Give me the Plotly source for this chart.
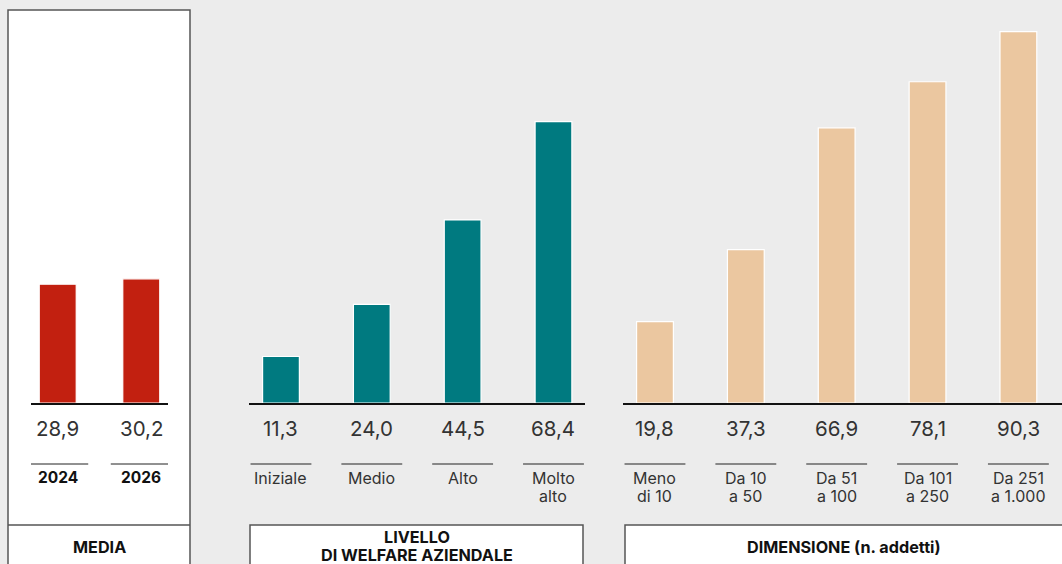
import plotly.graph_objects as go

W, H = 1062, 564

# --- data -------------------------------------------------------------
media_years = ["2024", "2026"]
media_values = [28.9, 30.2]

welfare_levels = ["Iniziale", "Medio", "Alto", "Molto<br>alto"]
welfare_values = [11.3, 24.0, 44.5, 68.4]

size_classes = ["Meno<br>di 10", "Da 10<br>a 50", "Da 51<br>a 100",
                "Da 101<br>a 250", "Da 251<br>a 1.000"]
size_values = [19.8, 37.3, 66.9, 78.1, 90.3]

panel_titles = ["MEDIA", "LIVELLO<br>DI WELFARE AZIENDALE", "DIMENSIONE (n. addetti)"]

# --- styling ----------------------------------------------------------
BG = "#ececec"
FONT = "Inter"
TXT = "#333333"
colors = ["#c22010", "#007a80", "#ebc7a0"]


def px_x(p):
    return p / W


def px_y(p):
    return 1 - p / H


panels = [
    dict(cats=media_years, vals=media_values, dom=[31, 168], rng=[-0.32, 1.32],
         width=0.443, half=0.365, bold=True),
    dict(cats=welfare_levels, vals=welfare_values, dom=[249, 585], rng=[-0.352, 3.347],
         width=0.405, half=0.335, bold=False),
    dict(cats=size_classes, vals=size_values, dom=[623, 1062], rng=[-0.352, 4.48],
         width=0.405, half=0.335, bold=False),
]

fig = go.Figure()
shapes = []
annotations = []

# white frame of the first panel, drawn behind everything
shapes.append(dict(type="rect", xref="paper", yref="paper",
                   x0=px_x(8), x1=px_x(190), y0=-0.05, y1=px_y(10),
                   fillcolor="white", line=dict(color="#555555", width=1.5),
                   layer="below"))

y_dom = [px_y(403), px_y(10)]
y_max = (403 - 10) / 4.113

for i, p in enumerate(panels):
    n = "" if i == 0 else str(i + 1)
    xa, ya = "x" + n, "y" + n
    fig.add_trace(go.Bar(
        x=p["cats"], y=p["vals"], width=[p["width"]] * len(p["vals"]),
        marker=dict(color=colors[i], line=dict(color="white", width=1.2)),
        xaxis=xa, yaxis=ya, showlegend=False, hoverinfo="skip",
    ))
    fig.layout["xaxis" + n] = dict(
        domain=[px_x(p["dom"][0]), px_x(p["dom"][1])], range=p["rng"],
        anchor=ya, showline=True, linecolor="#111111", linewidth=2.2,
        showticklabels=False, ticks="", showgrid=False, zeroline=False,
        fixedrange=True,
    )
    fig.layout["yaxis" + n] = dict(
        domain=y_dom, range=[0, y_max], anchor=xa, visible=False,
        showgrid=False, zeroline=False, fixedrange=True,
    )

    for k, (cat, val) in enumerate(zip(p["cats"], p["vals"])):
        # value under the baseline
        annotations.append(dict(
            xref=xa, yref="paper", x=k, y=px_y(428),
            text=f"{val:.1f}".replace(".", ","), showarrow=False,
            yanchor="middle", xanchor="center",
            font=dict(family=FONT, size=20.5, color=TXT),
        ))
        # short rule above the category name
        shapes.append(dict(type="line", xref=xa, yref="paper",
                           x0=k - p["half"], x1=k + p["half"],
                           y0=px_y(464), y1=px_y(464),
                           line=dict(color="#222222", width=1)))
        # category name, one annotation per line
        for j, line in enumerate(cat.split("<br>")):
            annotations.append(dict(
                xref=xa, yref="paper", x=k, y=px_y(478 + 18 * j),
                text=f"<b>{line}</b>" if p["bold"] else line,
                showarrow=False, yanchor="middle", xanchor="center",
                font=dict(family=FONT, size=15.5 if p["bold"] else 16,
                          color="#111111" if p["bold"] else TXT),
            ))

# title boxes along the bottom
shapes.append(dict(type="line", xref="paper", yref="paper",
                   x0=px_x(8), x1=px_x(190), y0=px_y(525), y1=px_y(525),
                   line=dict(color="#555555", width=1.5)))
shapes.append(dict(type="rect", xref="paper", yref="paper",
                   x0=px_x(250), x1=px_x(583), y0=-0.05, y1=px_y(525),
                   fillcolor="white", line=dict(color="#555555", width=1.5)))
shapes.append(dict(type="rect", xref="paper", yref="paper",
                   x0=px_x(625), x1=1.05, y0=-0.05, y1=px_y(525),
                   fillcolor="white", line=dict(color="#555555", width=1.5)))

title_pos = [(99, [547]), (416.5, [537, 555]), (844, [547])]
for title, (cx, ys) in zip(panel_titles, title_pos):
    for line, yy in zip(title.split("<br>"), ys):
        annotations.append(dict(
            xref="paper", yref="paper", x=px_x(cx), y=px_y(yy),
            text=f"<b>{line}</b>", showarrow=False,
            xanchor="center", yanchor="middle",
            font=dict(family=FONT, size=16.2, color="#111111"),
        ))

fig.update_layout(
    width=W, height=H, margin=dict(l=0, r=0, t=0, b=0),
    paper_bgcolor=BG, plot_bgcolor="rgba(0,0,0,0)",
    shapes=shapes, annotations=annotations, showlegend=False,
    barmode="group",
)

fig.write_html("out.html", config=dict(displayModeBar=False))
